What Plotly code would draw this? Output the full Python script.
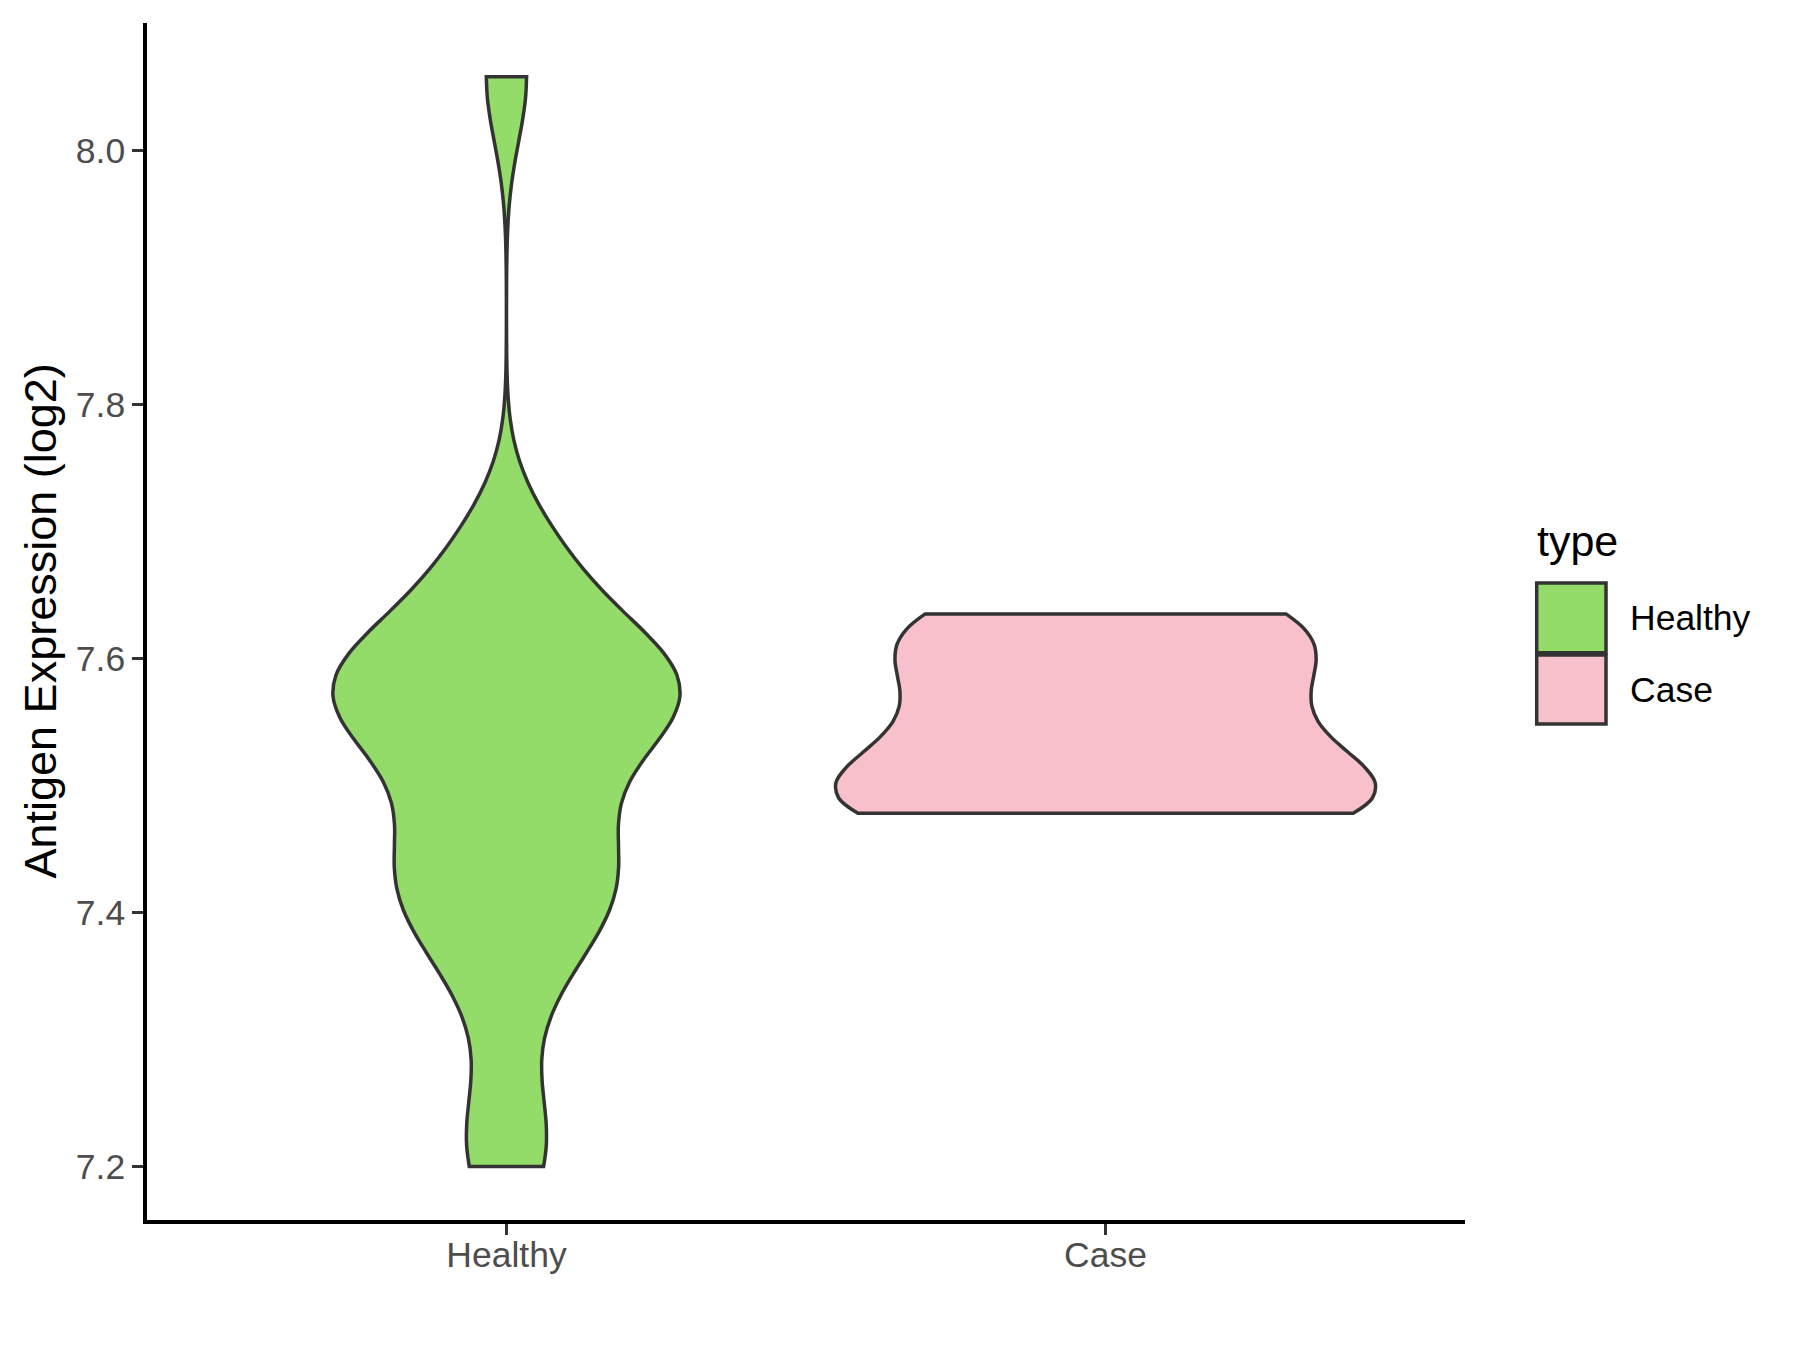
import plotly.graph_objects as go

# ---- data ----
categories = ["Healthy", "Case"]
healthy_values = [7.200, 7.233, 7.333, 7.388, 7.393, 7.430, 7.438, 7.439, 7.486, 7.518, 7.551,
                  7.563, 7.569, 7.581, 7.582, 7.583, 7.592, 7.614, 7.677, 7.677, 8.058]
case_values = [7.478, 7.484, 7.488, 7.519, 7.559, 7.591, 7.628, 7.635]
y_ticks = [7.2, 7.4, 7.6, 7.8, 8.0]

colors = {"Healthy": "#94DC6A", "Case": "#F8C0CB"}
outline = "#333333"
font_family = "Arial, Liberation Sans, Helvetica, sans-serif"

# plot-area geometry (screen pixels) used for paper-coordinate placement of legend/title
PX_L, PX_R, PX_T, PX_B = 147, 1465, 23, 1220
OFF = 8  # page body offset


def px(x):
    return (x - PX_L) / (PX_R - PX_L)


def py(y):
    return (PX_B - y) / (PX_B - PX_T)


fig = go.Figure()
fig.add_trace(go.Violin(
    x=[categories[0]] * len(healthy_values), y=healthy_values, name="Healthy",
    fillcolor=colors["Healthy"], line=dict(color=outline, width=3.5), opacity=1,
    width=0.579, spanmode="hard", bandwidth=0.0509, points=False, scalemode="width",
    showlegend=False, hoveron="violins"))
fig.add_trace(go.Violin(
    x=[categories[1]] * len(case_values), y=case_values, name="Case",
    fillcolor=colors["Case"], line=dict(color=outline, width=3.5), opacity=1,
    width=0.9, spanmode="hard", bandwidth=0.0382, points=False, scalemode="width",
    showlegend=False, hoveron="violins"))

# y-axis title
fig.add_annotation(text="Antigen Expression (log2)", xref="paper", yref="paper",
                   x=px(40), y=0.5, xanchor="center", yanchor="middle", textangle=-90,
                   showarrow=False, font=dict(family=font_family, size=45, color="black"))

# legend (ggplot style)
fig.add_annotation(text="type", xref="paper", yref="paper", x=px(1535), y=py(541),
                   xanchor="left", yanchor="middle", showarrow=False,
                   font=dict(family=font_family, size=43, color="black"))
for name, (y0, y1, yc) in zip(categories, [(583, 652.7, 618), (655, 724, 689.5)]):
    fig.add_shape(type="rect", xref="paper", yref="paper", x0=px(1536.7), x1=px(1606),
                  y0=py(y1), y1=py(y0), fillcolor=colors[name], line=dict(color=outline, width=3.5))
    fig.add_annotation(text=name, xref="paper", yref="paper", x=px(1628), y=py(yc),
                       xanchor="left", yanchor="middle", showarrow=False,
                       font=dict(family=font_family, size=35.5, color="black"))

fig.update_layout(
    width=1800, height=1350,
    margin=dict(l=PX_L - OFF, r=1800 - PX_R + OFF, t=PX_T - OFF, b=1350 - PX_B + OFF),
    violinmode="overlay", plot_bgcolor="white", paper_bgcolor="white",
    font=dict(family=font_family), showlegend=False)
fig.update_xaxes(type="category", categoryorder="array", categoryarray=categories, range=[-0.6, 1.6],
                 showline=True, linecolor="black", linewidth=3.5, showgrid=False, zeroline=False,
                 ticks="outside", ticklen=11, tickwidth=3, tickcolor=outline, ticklabelstandoff=-10,
                 tickfont=dict(family=font_family, size=35.5, color="#4D4D4D"))
fig.update_yaxes(range=[7.1578, 8.1003], tickvals=y_ticks, tickformat=".1f",
                 showline=True, linecolor="black", linewidth=3.5, showgrid=False, zeroline=False,
                 ticks="outside", ticklen=11, tickwidth=3, tickcolor=outline,
                 tickfont=dict(family=font_family, size=35.5, color="#4D4D4D"))
fig.write_html("out.html")
